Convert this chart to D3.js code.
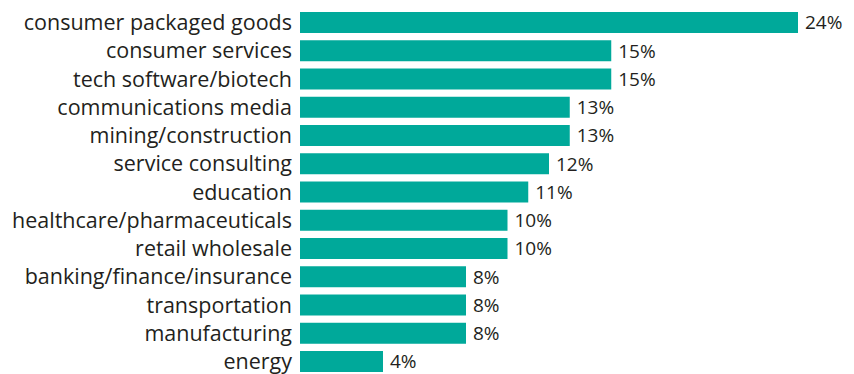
<!DOCTYPE html>
<html>
<head>
<meta charset="utf-8">
<script src="https://cdn.jsdelivr.net/npm/d3@7"></script>
<style>
  body { margin: 0; background: #fff; }
  text { font-family: 'Open Sans', sans-serif; fill: #231f20; }
</style>
</head>
<body>
<div id="chart-area"></div>
<script>
const categories = ['consumer packaged goods', 'consumer services', 'tech software/biotech',
  'communications media', 'mining/construction', 'service consulting', 'education',
  'healthcare/pharmaceuticals', 'retail wholesale', 'banking/finance/insurance',
  'transportation', 'manufacturing', 'energy'];
const values = [24, 15, 15, 13, 13, 12, 11, 10, 10, 8, 8, 8, 4];

const W = 854, H = 374;
const margin = {left: 300, top: 12};

const svg = d3.select('#chart-area')
  .append('svg')
  .attr('width', W)
  .attr('height', H);

const x = d3.scaleLinear()
  .domain([0, 24])
  .range([0, 498]);

// step 28.25, bar 21
const y = d3.scaleBand()
  .domain(categories)
  .range([0, 28.25 * 12 + 21])
  .paddingInner(0.257)
  .paddingOuter(0);

const g = svg.append('g')
  .attr('transform', `translate(${margin.left}, ${margin.top})`);

g.selectAll('rect')
  .data(values)
  .enter()
  .append('rect')
  .attr('x', 0)
  .attr('y', (d, i) => y(categories[i]))
  .attr('width', d => x(d))
  .attr('height', y.bandwidth())
  .attr('fill', '#00a99a');

// category labels
g.selectAll('.cat')
  .data(categories)
  .enter()
  .append('text')
  .attr('class', 'cat')
  .attr('x', -8)
  .attr('y', d => y(d) + y.bandwidth() / 2)
  .attr('dy', '0.36em')
  .attr('text-anchor', 'end')
  .attr('font-size', '21.5px')
  .text(d => d);

// value labels
g.selectAll('.val')
  .data(values)
  .enter()
  .append('text')
  .attr('class', 'val')
  .attr('x', d => x(d) + 7)
  .attr('y', (d, i) => y(categories[i]) + y.bandwidth() / 2)
  .attr('dy', '0.36em')
  .attr('font-size', '19px')
  .text(d => d + '%');
</script>
</body>
</html>
